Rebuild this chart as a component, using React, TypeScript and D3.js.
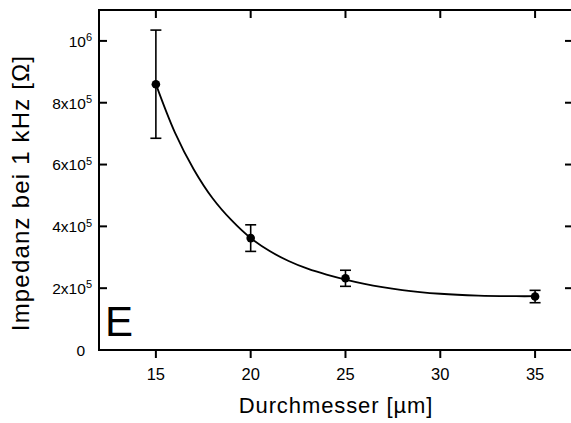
import React from "react";
import * as d3 from "d3";

// Measured impedance at 1 kHz for each electrode diameter
const diameters = [15, 20, 25, 35];
const impedance = [860000, 362000, 232000, 173000];
const impedanceErr = [175000, 43000, 26000, 20000];

// Fitted decay curve, sampled along the diameter range
const fitX = [15, 16, 17, 18, 19, 20, 21, 22, 23, 24, 26, 28, 30, 32, 34, 35];
const fitY = [860000, 704000, 584000, 490000, 419000, 362000, 320000, 288000, 263000, 244000, 214000, 194000, 182000, 176000, 174000, 174000];

const xTicks = [15, 20, 25, 30, 35];
const yTicks = [0, 200000, 400000, 600000, 800000, 1000000];

const xTitle = "Durchmesser [µm]";
const yTitle = "Impedanz bei 1 kHz [Ω]";
const panelLabel = "E";

const W = 571;
const H = 423;
const FONT = "'Liberation Sans', Arial, Helvetica, sans-serif";

function sciParts(v: number): { mant: string; exp: string } {
  if (v === 0) return { mant: "0", exp: "" };
  const e = Math.floor(Math.log10(v));
  const m = Math.round(v / Math.pow(10, e));
  return m === 1 ? { mant: "10", exp: String(e) } : { mant: `${m}x10`, exp: String(e) };
}

export default function App() {
  const plot = { left: 99, right: 573, top: 10, bottom: 350 };
  const x = d3.scaleLinear().domain([12, 37]).range([plot.left, plot.right]);
  const y = d3.scaleLinear().domain([0, 1100000]).range([plot.bottom, plot.top]);

  const line = d3
    .line<number>()
    .x((_, i) => x(fitX[i]))
    .y((d) => y(d))
    .curve(d3.curveCatmullRom.alpha(0.5));

  const tickLen = 8;
  const axisW = 2;

  return (
    <svg
      width={W}
      height={H}
      viewBox={`0 0 ${W} ${H}`}
      style={{ position: "absolute", left: 0, top: 0, background: "#fff" }}
      fontFamily={FONT}
    >
      <rect x={0} y={0} width={W} height={H} fill="#fff" />

      {/* fitted curve */}
      <path d={line(fitY) || ""} fill="none" stroke="#000" strokeWidth={1.8} />

      {/* error bars and markers */}
      {diameters.map((d, i) => {
        const cx = x(d);
        const yTop = y(impedance[i] + impedanceErr[i]);
        const yBot = y(impedance[i] - impedanceErr[i]);
        return (
          <g key={d} stroke="#000" strokeWidth={1.6}>
            <line x1={cx} x2={cx} y1={yTop} y2={yBot} />
            <line x1={cx - 5.5} x2={cx + 5.5} y1={yTop} y2={yTop} />
            <line x1={cx - 5.5} x2={cx + 5.5} y1={yBot} y2={yBot} />
            <circle cx={cx} cy={y(impedance[i])} r={4.3} fill="#000" stroke="none" />
          </g>
        );
      })}

      {/* frame */}
      <g stroke="#000" strokeWidth={axisW} fill="none">
        <line x1={plot.left} x2={plot.right} y1={plot.bottom} y2={plot.bottom} />
        <line x1={plot.left} x2={plot.right} y1={plot.top} y2={plot.top} />
        <line x1={plot.left} x2={plot.left} y1={plot.top - 1} y2={plot.bottom + 1} />
        <line x1={plot.right} x2={plot.right} y1={plot.top - 1} y2={plot.bottom + 1} />
      </g>

      {/* x ticks: outward at the bottom, inward at the top */}
      {xTicks.map((t) => (
        <g key={`xt${t}`} stroke="#000" strokeWidth={2}>
          <line x1={x(t)} x2={x(t)} y1={plot.bottom} y2={plot.bottom + tickLen} />
          <line x1={x(t)} x2={x(t)} y1={plot.top} y2={plot.top + tickLen} />
        </g>
      ))}
      {xTicks.map((t) => (
        <text key={`xl${t}`} x={x(t)} y={380} textAnchor="middle" fontSize={16.5} fill="#000">
          {t}
        </text>
      ))}

      {/* y ticks: inward on both sides */}
      {yTicks.map((t) => (
        <g key={`yt${t}`} stroke="#000" strokeWidth={2}>
          <line x1={plot.left} x2={plot.left + tickLen} y1={y(t)} y2={y(t)} />
          <line x1={plot.right} x2={plot.right - tickLen} y1={y(t)} y2={y(t)} />
        </g>
      ))}
      {yTicks.map((t) => {
        const p = sciParts(t);
        const endX = p.exp ? 92 : 85;
        return (
          <text key={`yl${t}`} x={endX} y={y(t) + 5.8} textAnchor="end" fontSize={15.5} fill="#000">
            {p.mant}
            {p.exp && (
              <tspan dy={-5.5} fontSize={11}>
                {p.exp}
              </tspan>
            )}
          </text>
        );
      })}

      {/* axis titles */}
      <text
        x={(plot.left + plot.right) / 2}
        y={413}
        textAnchor="middle"
        fontSize={22}
        letterSpacing={0.9}
        fill="#000"
      >
        {xTitle}
      </text>
      <text
        transform={`translate(28.5, ${193}) rotate(-90)`}
        textAnchor="middle"
        fontSize={24}
        letterSpacing={1.2}
        fill="#000"
      >
        {yTitle}
      </text>

      {/* panel letter */}
      <text x={105} y={336} fontSize={42} fill="#000">
        {panelLabel}
      </text>
    </svg>
  );
}
